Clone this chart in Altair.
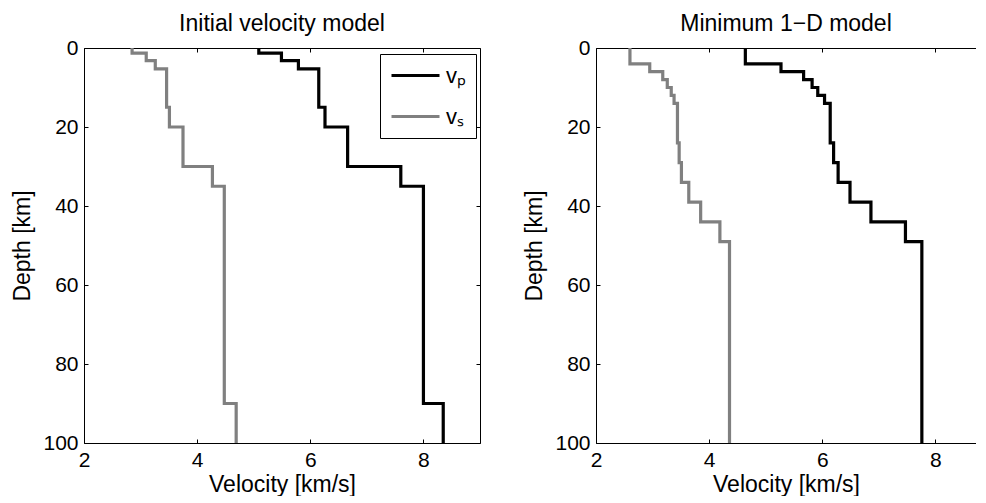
import altair as alt
import pandas as pd

FONT = "Liberation Sans"

# ---- Initial velocity model (layer tops in km, velocities in km/s)
init_top_depth = [0, 1.3, 3.2, 5.3, 15, 20, 30, 35, 90]
init_vp = [5.09, 5.49, 5.79, 6.15, 6.26, 6.66, 7.60, 8.00, 8.35]
init_vs = [2.85, 3.10, 3.26, 3.46, 3.51, 3.75, 4.27, 4.48, 4.69]

# ---- Minimum 1-D model
min_top_depth = [0, 4, 6, 8, 10, 12, 14, 24, 29, 34, 39, 44, 49]
min_vp = [4.64, 5.27, 5.67, 5.82, 5.92, 6.04, 6.14, 6.20, 6.28, 6.49, 6.86, 7.47, 7.76]
min_vs = [2.60, 2.95, 3.18, 3.26, 3.33, 3.38, 3.44, 3.47, 3.51, 3.64, 3.85, 4.19, 4.36]

max_depth = 100
wave_labels = ["vₚ", "vₛ"]
wave_colors = ["black", "#808080"]
x_ticks = [2, 4, 6, 8]
y_ticks = [0, 20, 40, 60, 80, 100]
titles = ["Initial velocity model", "Minimum 1−D model"]


def profile(tops, vp, vs):
    rows = []
    for label, vals in zip(wave_labels, [vp, vs]):
        for d, v in zip(tops, vals):
            rows.append({"depth": d, "velocity": v, "wave": label})
        rows.append({"depth": max_depth, "velocity": vals[-1], "wave": label})
    return pd.DataFrame(rows)


def panel(df, title, x_max, width, right_side, legend_x):
    xs = alt.Scale(domain=[2, x_max], nice=False, zero=False)
    ys = alt.Scale(domain=[0, max_depth], reverse=True, nice=False, zero=False)

    tick_style = dict(grid=False, ticks=True, tickSize=4, tickColor="black", tickWidth=1,
                      offset=-4, domain=False)
    lines = alt.Chart(df).mark_line(interpolate="step-before", strokeWidth=3.2).encode(
        x=alt.X("velocity:Q", scale=xs, axis=alt.Axis(
            orient="bottom", values=x_ticks, labelFont=FONT, labelFontSize=21,
            labelColor="black", labelPadding=6, labelFlush=False, labelOverlap=False,
            title="Velocity [km/s]", titleFont=FONT, titleFontSize=23,
            titleFontWeight="normal", titleColor="black", titlePadding=3, **tick_style)),
        y=alt.Y("depth:Q", scale=ys, axis=alt.Axis(
            orient="left", values=y_ticks, labelFont=FONT, labelFontSize=21,
            labelColor="black", labelPadding=6, labelFlush=False, labelOverlap=False,
            title="Depth [km]", titleFont=FONT, titleFontSize=23,
            titleFontWeight="normal", titleColor="black", titlePadding=8, **tick_style)),
        color=alt.Color("wave:N", scale=alt.Scale(domain=wave_labels, range=wave_colors),
                        legend=alt.Legend(orient="none", legendX=legend_x, legendY=6, title=None,
                                          symbolType="M-1,0H3.8", symbolSize=400,
                                          symbolStrokeWidth=3, labelFont=FONT,
                                          labelFontSize=22, labelColor="black",
                                          labelOffset=33, padding=10, rowPadding=18,
                                          strokeColor="black", fillColor="white")),
        order=alt.Order("depth:Q"),
    )

    def ghost(x_axis, y_axis):
        return alt.Chart(df).mark_point(opacity=0).encode(
            x=alt.X("velocity:Q", scale=xs, axis=x_axis),
            y=alt.Y("depth:Q", scale=ys, axis=y_axis),
        )

    def dom(orient):
        return alt.Axis(orient=orient, domain=True, domainColor="black", domainWidth=1,
                        ticks=False, labels=False, grid=False, title=None)

    def inner_ticks(orient, vals):
        return alt.Axis(orient=orient, values=vals, labels=False, title=None, **tick_style)

    layers = [
        lines,
        ghost(dom("bottom"), dom("left")),
        ghost(dom("top"), dom("right") if right_side else None),
        ghost(inner_ticks("top", x_ticks), inner_ticks("right", y_ticks) if right_side else None),
    ]
    return alt.layer(*layers).resolve_axis(x="independent", y="independent").properties(
        width=width, height=395,
        title=alt.TitleParams(titles[title], font=FONT, fontSize=23,
                              fontWeight="normal", color="black", anchor="middle", offset=1),
    )


px_per_unit = 396 / 7
left = panel(profile(init_top_depth, init_vp, init_vs), 0, 9, 396, True, 296)
right = panel(profile(min_top_depth, min_vp, min_vs), 1, 2 + 380 / px_per_unit, 380, False, 284)

chart = alt.hconcat(left, right, spacing=42).configure_view(stroke=None).properties(
    padding={"left": 3, "top": 5, "right": 0, "bottom": 0}
)

chart.save("out.html", embed_options={"renderer": "svg", "actions": False})
